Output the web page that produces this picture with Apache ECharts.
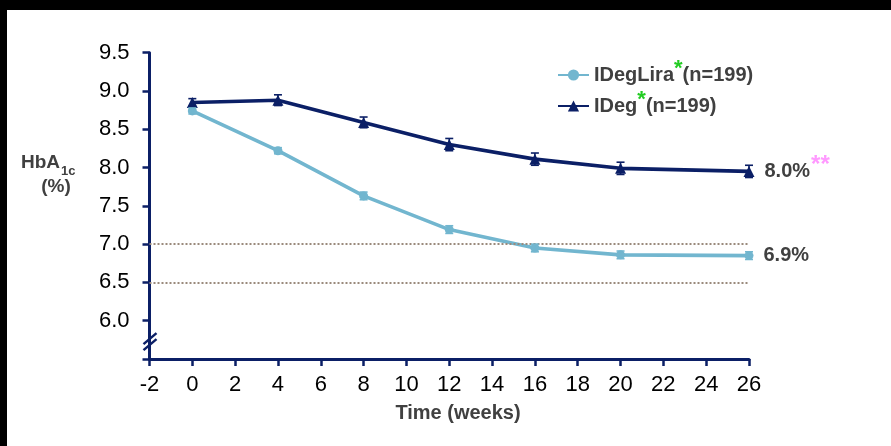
<!DOCTYPE html>
<html><head><meta charset="utf-8">
<script src="https://cdn.jsdelivr.net/npm/echarts@6/dist/echarts.min.js"></script>
<style>html,body{margin:0;padding:0;background:#fff;overflow:hidden}#c{width:891px;height:446px}</style>
</head><body><div id="c"></div>
<script>
// ---- data ----
const weeks = [0, 4, 8, 12, 16, 20, 26];
const idegLira = [8.74, 8.22, 7.63, 7.19, 6.95, 6.86, 6.85];
const idegLiraErr = [0.04, 0.04, 0.05, 0.05, 0.05, 0.05, 0.05];
const ideg = [8.85, 8.88, 8.59, 8.30, 8.11, 7.99, 7.95];
const idegErr = [0.05, 0.07, 0.07, 0.08, 0.08, 0.08, 0.08];
const seriesNames = ['IDegLira', 'IDeg'];
const nLabel = '(n=199)';
const endLabels = ['6.9%', '8.0%'];
const endMarks = ['', '**'];
const refLines = [7.0, 6.5];
const xTicks = { min: -2, max: 26, step: 2 };
const yTicks = { min: 5.5, max: 9.5, step: 0.5 };

// ---- style ----
const F = "'Liberation Sans', Arial, sans-serif";
const NAVY = '#0b1f66';
const LIGHT = '#72b6cf';
const GRAY = '#404040';

const chart = echarts.init(document.getElementById('c'), null, { renderer: 'canvas' });

function errSeries(vals, errs, color) {
  return {
    type: 'custom', silent: true, z: 6,
    data: weeks.map((w, i) => [w, vals[i] - errs[i], vals[i] + errs[i]]),
    encode: { x: 0, y: [1, 2] },
    renderItem(params, api) {
      const x = api.value(0);
      const lo = api.coord([x, api.value(1)]);
      const hi = api.coord([x, api.value(2)]);
      const w = 4;
      const st = { stroke: color, lineWidth: 1.6 };
      return { type: 'group', children: [
        { type: 'line', shape: { x1: lo[0], y1: lo[1], x2: hi[0], y2: hi[1] }, style: st },
        { type: 'line', shape: { x1: lo[0] - w, y1: lo[1], x2: lo[0] + w, y2: lo[1] }, style: st },
        { type: 'line', shape: { x1: hi[0] - w, y1: hi[1], x2: hi[0] + w, y2: hi[1] }, style: st }
      ] };
    }
  };
}

function lineData(vals, idx) {
  return weeks.map((w, i) => {
    if (i === weeks.length - 1) {
      return {
        value: [w, vals[i]],
        label: {
          show: true, position: 'right', distance: 10,
          formatter: '{v|' + endLabels[idx] + '}' + (endMarks[idx] ? '{p|' + endMarks[idx] + '}' : ''),
          rich: {
            v: { fontFamily: F, fontWeight: 'bold', fontSize: 20, color: GRAY },
            p: { fontFamily: F, fontWeight: 'bold', fontSize: 24, color: '#ff99ff', padding: [0, 0, 12, 1] }
          }
        }
      };
    }
    return [w, vals[i]];
  });
}

const option = {
  animation: false,
  grid: { left: 149.5, top: 52.7, right: 142, bottom: 87 },
  xAxis: {
    type: 'value', min: xTicks.min, max: xTicks.max, interval: xTicks.step,
    splitLine: { show: false },
    axisLine: { show: true, onZero: false, lineStyle: { color: NAVY, width: 3 } },
    axisTick: { show: true, length: 7, lineStyle: { color: NAVY, width: 2.5 } },
    axisLabel: { fontFamily: F, fontSize: 22, color: '#000', margin: 15 }
  },
  yAxis: {
    type: 'value', min: yTicks.min, max: yTicks.max, interval: yTicks.step,
    splitLine: { show: false },
    axisLine: { show: true, onZero: false, lineStyle: { color: NAVY, width: 3 } },
    axisTick: { show: true, length: 7, lineStyle: { color: NAVY, width: 2.5 } },
    axisLabel: {
      fontFamily: F, fontSize: 22, color: '#000', margin: 20,
      formatter: v => (Math.abs(v - yTicks.min) < 1e-9 ? '' : v.toFixed(1))
    }
  },
  legend: {
    data: seriesNames, orient: 'vertical', left: 557, top: 58, padding: 0,
    itemWidth: 31, itemHeight: 14, itemGap: 4, selectedMode: false,
    formatter: name => '{b|' + name + '}{s|*}{b|' + nLabel + '}',
    textStyle: {
      fontFamily: F, fontWeight: 'bold', fontSize: 20, color: GRAY,
      rich: {
        b: { fontFamily: F, fontWeight: 'bold', fontSize: 20, color: GRAY },
        s: { fontFamily: F, fontWeight: 'bold', fontSize: 22, color: '#22cc22', padding: [0, 0, 12, 0] }
      }
    }
  },
  series: [
    {
      name: seriesNames[0], type: 'line', data: lineData(idegLira, 0), z: 3,
      symbol: 'circle', symbolSize: 9,
      lineStyle: { color: LIGHT, width: 3.6 }, itemStyle: { color: LIGHT },
      markLine: {
        silent: true, symbol: 'none', animation: false,
        lineStyle: { type: 'dotted', color: '#9a8a7c', width: 2 },
        label: { show: false },
        data: refLines.map(v => [{ coord: [xTicks.min, v] }, { coord: [xTicks.max, v] }])
      }
    },
    {
      name: seriesNames[1], type: 'line', data: lineData(ideg, 1), z: 4,
      symbol: 'triangle', symbolSize: 11,
      lineStyle: { color: NAVY, width: 3.6 }, itemStyle: { color: NAVY }
    },
    errSeries(idegLira, idegLiraErr, LIGHT),
    errSeries(ideg, idegErr, NAVY)
  ]
};
chart.setOption(option);

// decorations: frame, axis titles, axis break
const bp = chart.convertToPixel({ gridIndex: 0 }, [xTicks.min, 5.72]);
const brk = d => ({ type: 'line', z: 100, shape: { x1: bp[0] - 6, y1: bp[1] + 5 + d, x2: bp[0] + 7, y2: bp[1] - 6 + d },
  style: { stroke: NAVY, lineWidth: 2.5 } });
chart.setOption({
  graphic: [
    { type: 'rect', z: 100, shape: { x: 0, y: 0, width: 891, height: 10 }, style: { fill: '#000' } },
    { type: 'rect', z: 100, shape: { x: 0, y: 0, width: 7, height: 446 }, style: { fill: '#000' } },
    { type: 'text', z: 100, x: 21, y: 163, style: { text: 'HbA', font: 'bold 19px ' + F, fill: GRAY, verticalAlign: 'middle', align: 'left' } },
    { type: 'text', z: 100, x: 61, y: 171, style: { text: '1c', font: 'bold 13px ' + F, fill: GRAY, verticalAlign: 'middle', align: 'left' } },
    { type: 'text', z: 100, x: 56, y: 187, style: { text: '(%)', font: 'bold 19px ' + F, fill: GRAY, verticalAlign: 'middle', align: 'center' } },
    { type: 'text', z: 100, x: 458, y: 413, style: { text: 'Time (weeks)', font: 'bold 20px ' + F, fill: GRAY, verticalAlign: 'middle', align: 'center' } },
    brk(-3), brk(3)
  ]
});
</script></body></html>
